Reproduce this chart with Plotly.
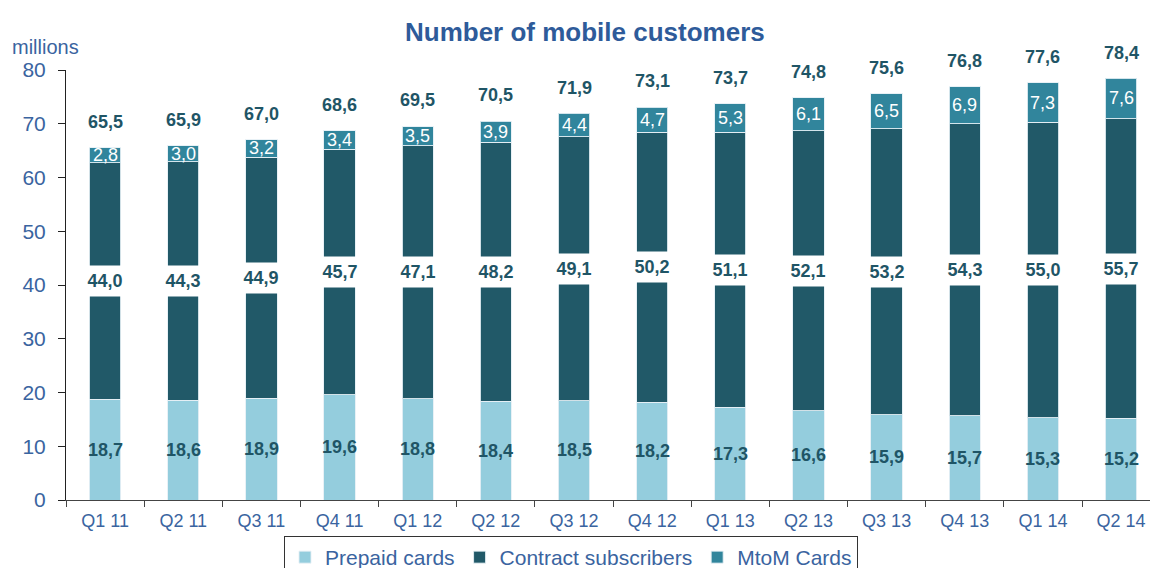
import plotly.graph_objects as go

quarters = ["Q1 11", "Q2 11", "Q3 11", "Q4 11", "Q1 12", "Q2 12", "Q3 12",
            "Q4 12", "Q1 13", "Q2 13", "Q3 13", "Q4 13", "Q1 14", "Q2 14"]
prepaid = [18.7, 18.6, 18.9, 19.6, 18.8, 18.4, 18.5, 18.2, 17.3, 16.6, 15.9, 15.7, 15.3, 15.2]
contract = [44.0, 44.3, 44.9, 45.7, 47.1, 48.2, 49.1, 50.2, 51.1, 52.1, 53.2, 54.3, 55.0, 55.7]
mtom = [2.8, 3.0, 3.2, 3.4, 3.5, 3.9, 4.4, 4.7, 5.3, 6.1, 6.5, 6.9, 7.3, 7.6]
totals = [65.5, 65.9, 67.0, 68.6, 69.5, 70.5, 71.9, 73.1, 73.7, 74.8, 75.6, 76.8, 77.6, 78.4]

C_PRE = "#94CDDD"
C_CON = "#215968"
C_MTM = "#31859C"
C_LBL = "#1F5566"
C_AX = "#3A64A0"
FONT = "Liberation Sans, Arial, sans-serif"

PW = 1084.0  # plot width in px
PH = 430.0   # plot height in px

def fmt(v):
    return f"{v:.1f}".replace(".", ",")

fig = go.Figure()
edge = dict(color="rgba(230,240,245,0.9)", width=1)
fig.add_trace(go.Bar(name="Prepaid cards", x=quarters, y=prepaid,
                     marker=dict(color=C_PRE, line=edge)))
fig.add_trace(go.Bar(name="Contract subscribers", x=quarters, y=contract,
                     marker=dict(color=C_CON, line=edge)))
fig.add_trace(go.Bar(name="MtoM Cards", x=quarters, y=mtom,
                     marker=dict(color=C_MTM, line=edge)))

ann = []
for q, p, c, m, t in zip(quarters, prepaid, contract, mtom, totals):
    ann.append(dict(x=q, y=p / 2, text=f"<b>{fmt(p)}</b>", showarrow=False,
                    font=dict(family=FONT, size=18, color=C_LBL)))
    ann.append(dict(x=q, y=p + c / 2, text=f"<b>{fmt(c)}</b>", showarrow=False,
                    font=dict(family=FONT, size=18, color=C_LBL),
                    bgcolor="white", width=46, height=30, borderpad=0))
    ann.append(dict(x=q, y=p + c + m / 2, text=fmt(m), showarrow=False,
                    font=dict(family=FONT, size=18, color="white")))
    ann.append(dict(x=q, y=t, yshift=26, text=f"<b>{fmt(t)}</b>", showarrow=False,
                    font=dict(family=FONT, size=18, color=C_LBL)))

ann.append(dict(xref="paper", yref="paper", x=(585 - 66) / PW, y=1 + (70 - 31.5) / PH,
                text="<b>Number of mobile customers</b>", showarrow=False,
                font=dict(family=FONT, size=26, color="#2E5B9A"),
                xanchor="center", yanchor="middle"))
ann.append(dict(xref="paper", yref="paper", x=(10 - 66) / PW, y=1 + (70 - 46.5) / PH,
                text="millions", showarrow=False, xanchor="left", yanchor="middle",
                font=dict(family=FONT, size=20, color=C_AX)))

fig.update_layout(
    barmode="stack",
    bargap=0.6,
    width=1150, height=568,
    margin=dict(l=66, r=0, t=70, b=68, autoexpand=False),
    plot_bgcolor="white", paper_bgcolor="white",
    showlegend=True,
    legend=dict(orientation="h", x=(571 - 66) / PW, xanchor="center",
                y=-36 / PH, yanchor="top",
                font=dict(family=FONT, size=21, color=C_AX),
                bordercolor="#333333", borderwidth=1, bgcolor="white",
                traceorder="normal"),
    annotations=ann,
    xaxis=dict(type="category", range=[-0.5, 13.37], showline=True, linecolor="#444444",
               linewidth=1, ticks="outside", tickson="boundaries", ticklen=6,
               tickcolor="#444444", showgrid=False, ticklabelstandoff=4,
               tickfont=dict(family=FONT, size=18, color=C_AX)),
    yaxis=dict(range=[0, 80], dtick=10, showline=True, linecolor="#222222", linewidth=1,
               ticks="outside", ticklen=7, tickcolor="#222222", showgrid=False,
               zeroline=False, ticklabelstandoff=8,
               tickfont=dict(family=FONT, size=21, color=C_AX)),
)

fig.write_html("out.html", config={"displayModeBar": False},
               post_script="document.body.style.margin='0';document.body.style.overflow='hidden';")
